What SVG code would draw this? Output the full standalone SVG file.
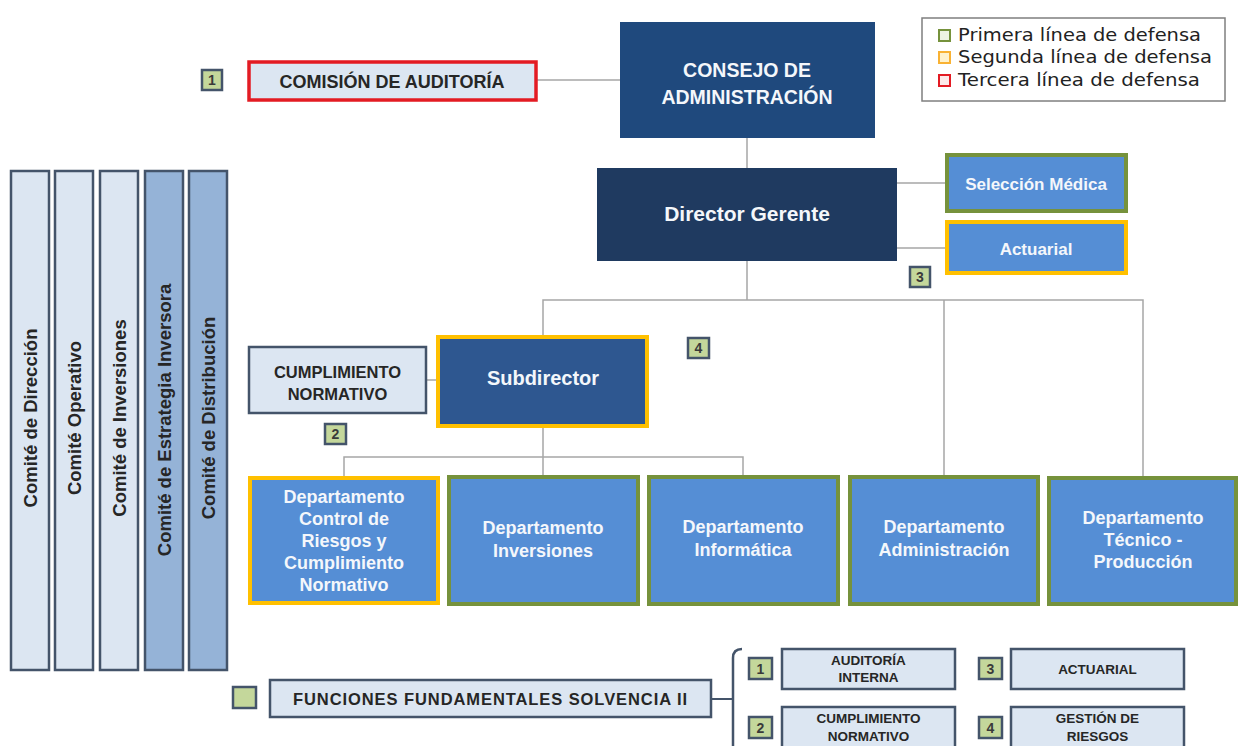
<svg xmlns="http://www.w3.org/2000/svg" width="1238" height="746" viewBox="0 0 1238 746">
<style>
.t{font-family:"Liberation Sans",Arial,sans-serif;font-weight:bold;text-anchor:middle}
.dk{fill:#262626}
.wh{fill:#f4f7fb}
.light{fill:#dce6f2;stroke:#44546a;stroke-width:2.5}
.com2{fill:#95b3d7;stroke:#44546a;stroke-width:2.5}
.dept{fill:#558ed5}
.gr{stroke:#76923c;stroke-width:4}
.ye{stroke:#ffc000;stroke-width:4}
.badge{fill:#c4d79b;stroke:#44546a;stroke-width:2.5}
.bt{font-family:"Liberation Sans",Arial,sans-serif;font-size:14px;font-weight:bold;fill:#3a3a3a;text-anchor:middle}
.conn{stroke:#a6a6a6;stroke-width:1.5;fill:none}
.leg{font-family:"DejaVu Sans",Verdana,sans-serif;font-size:17.5px;fill:#222}
</style>
<rect width="1238" height="746" fill="#ffffff"/>

<g id="connectors">
<line class="conn" x1="536" y1="80" x2="620" y2="80"/>
<line class="conn" x1="747" y1="138" x2="747" y2="168"/>
<line class="conn" x1="897" y1="183" x2="946" y2="183"/>
<line class="conn" x1="897" y1="248" x2="946" y2="248"/>
<line class="conn" x1="747" y1="261" x2="747" y2="300"/>
<polyline class="conn" points="543,335 543,300 1143,300 1143,478"/>
<line class="conn" x1="944" y1="300" x2="944" y2="476"/>
<line class="conn" x1="426" y1="380" x2="437" y2="380"/>
<line class="conn" x1="543" y1="428" x2="543" y2="476"/>
<polyline class="conn" points="344,476 344,457 743,457 743,476"/>
<line class="conn" x1="711" y1="699" x2="732" y2="699" style="stroke:#44546a;stroke-width:2"/>
<path d="M742 649 Q733 649 733 658 L733 746" style="fill:none;stroke:#44546a;stroke-width:2.5"/>
</g>

<g id="legend">
<rect x="922" y="18" width="303" height="83" fill="#ffffff" stroke="#7f7f7f" stroke-width="1.5"/>
<rect x="939" y="30" width="11" height="11" fill="#eef3e2" stroke="#76923c" stroke-width="2"/>
<rect x="939" y="52" width="11" height="11" fill="#fff2cc" stroke="#f9b233" stroke-width="2"/>
<rect x="939" y="75" width="11" height="11" fill="#fde9e9" stroke="#e31b23" stroke-width="2"/>
<text class="leg" x="958" y="41" textLength="243" lengthAdjust="spacingAndGlyphs">Primera línea de defensa</text>
<text class="leg" x="958" y="63" textLength="254" lengthAdjust="spacingAndGlyphs">Segunda línea de defensa</text>
<text class="leg" x="958" y="86" textLength="242" lengthAdjust="spacingAndGlyphs">Tercera línea de defensa</text>
</g>

<g id="badge-comision">
<rect class="badge" x="202" y="70" width="20" height="20"/>
<text class="bt" x="212" y="85">1</text>
</g>

<g id="comision-auditoria">
<rect x="249" y="62" width="287" height="38" fill="#dce6f2" stroke="#e31b23" stroke-width="3.5"/>
<text class="t dk" x="392" y="87.5" font-size="18">COMISIÓN DE AUDITORÍA</text>
</g>

<g id="consejo">
<rect x="620" y="22" width="255" height="116" fill="#1f497d"/>
<text class="t wh" x="747" y="77" font-size="19.5">CONSEJO DE</text>
<text class="t wh" x="747" y="104" font-size="19.5">ADMINISTRACIÓN</text>
</g>

<g id="director-gerente">
<rect x="597" y="168" width="300" height="93" fill="#1f3a60"/>
<text class="t wh" x="747" y="220.5" font-size="21">Director Gerente</text>
</g>

<g id="seleccion-medica">
<rect class="dept gr" x="947" y="155" width="179" height="56"/>
<text class="t wh" x="1036" y="190" font-size="17">Selección Médica</text>
</g>

<g id="actuarial">
<rect class="dept ye" x="947" y="222" width="179" height="51"/>
<text class="t wh" x="1036" y="255" font-size="17">Actuarial</text>
</g>

<g id="badge-3">
<rect class="badge" x="910" y="267" width="20" height="20"/>
<text class="bt" x="920" y="282">3</text>
</g>

<g id="badge-4">
<rect class="badge" x="688" y="338" width="21" height="20"/>
<text class="bt" x="698.5" y="353">4</text>
</g>

<g id="cumplimiento-normativo">
<rect class="light" x="249" y="347" width="177" height="66"/>
<text class="t dk" x="337.5" y="378" font-size="16.5">CUMPLIMIENTO</text>
<text class="t dk" x="337.5" y="400" font-size="16.5">NORMATIVO</text>
</g>

<g id="badge-2">
<rect class="badge" x="325" y="424" width="21" height="20"/>
<text class="bt" x="335.5" y="439">2</text>
</g>

<g id="subdirector">
<rect x="438" y="337" width="209" height="89" fill="#2e5790" class="ye"/>
<text class="t wh" x="543" y="385" font-size="20">Subdirector</text>
</g>

<g id="dept-control">
<rect class="dept ye" x="250" y="478" width="188" height="125"/>
<text class="t wh" font-size="18"><tspan x="344" y="503">Departamento</tspan><tspan x="344" y="525">Control de</tspan><tspan x="344" y="547">Riesgos y</tspan><tspan x="344" y="569">Cumplimiento</tspan><tspan x="344" y="591">Normativo</tspan></text>
</g>

<g id="dept-inversiones">
<rect class="dept gr" x="449" y="477" width="189" height="127"/>
<text class="t wh" font-size="18"><tspan x="543" y="534">Departamento</tspan><tspan x="543" y="557">Inversiones</tspan></text>
</g>

<g id="dept-informatica">
<rect class="dept gr" x="649" y="477" width="189" height="127"/>
<text class="t wh" font-size="18"><tspan x="743" y="533">Departamento</tspan><tspan x="743" y="556">Informática</tspan></text>
</g>

<g id="dept-administracion">
<rect class="dept gr" x="850" y="477" width="188" height="127"/>
<text class="t wh" font-size="18"><tspan x="944" y="533">Departamento</tspan><tspan x="944" y="556">Administración</tspan></text>
</g>

<g id="dept-tecnico">
<rect class="dept gr" x="1049" y="478" width="187" height="126"/>
<text class="t wh" font-size="18"><tspan x="1143" y="524">Departamento</tspan><tspan x="1143" y="546">Técnico -</tspan><tspan x="1143" y="568">Producción</tspan></text>
</g>

<g id="comite-direccion">
<rect class="light" x="11" y="171" width="38" height="499"/>
<text class="t dk" font-size="18.5" transform="translate(37,418) rotate(-90)">Comité de Dirección</text>
</g>
<g id="comite-operativo">
<rect class="light" x="55" y="171" width="38" height="499"/>
<text class="t dk" font-size="18.5" transform="translate(81,418) rotate(-90)">Comité Operativo</text>
</g>
<g id="comite-inversiones">
<rect class="light" x="100" y="171" width="38" height="499"/>
<text class="t dk" font-size="18.5" transform="translate(126,418) rotate(-90)">Comité de Inversiones</text>
</g>
<g id="comite-estrategia">
<rect class="com2" x="145" y="171" width="38" height="499"/>
<text class="t dk" font-size="18.5" transform="translate(171,420) rotate(-90)">Comité de Estrategia Inversora</text>
</g>
<g id="comite-distribucion">
<rect class="com2" x="189" y="171" width="38" height="499"/>
<text class="t dk" font-size="18.5" transform="translate(215,418) rotate(-90)">Comité de Distribución</text>
</g>

<g id="funciones">
<rect class="badge" x="233" y="687" width="23" height="21"/>
<rect class="light" x="270" y="680" width="441" height="37"/>
<text class="t dk" x="490" y="705" font-size="16.5" textLength="394" lengthAdjust="spacing">FUNCIONES FUNDAMENTALES SOLVENCIA II</text>
</g>

<g id="auditoria-interna">
<rect class="badge" x="749" y="658" width="23" height="21"/>
<text class="bt" x="760.5" y="673.5">1</text>
<rect class="light" x="782" y="649" width="173" height="40"/>
<text class="t dk" x="868.5" y="665" font-size="13.5">AUDITORÍA</text>
<text class="t dk" x="868.5" y="682" font-size="13.5">INTERNA</text>
</g>

<g id="cumplimiento-2">
<rect class="badge" x="749" y="717" width="23" height="21"/>
<text class="bt" x="760.5" y="732.5">2</text>
<rect class="light" x="782" y="707" width="173" height="45"/>
<text class="t dk" x="868.5" y="723" font-size="13.5">CUMPLIMIENTO</text>
<text class="t dk" x="868.5" y="741" font-size="13.5">NORMATIVO</text>
</g>

<g id="actuarial-2">
<rect class="badge" x="979" y="658" width="23" height="21"/>
<text class="bt" x="990.5" y="673.5">3</text>
<rect class="light" x="1011" y="649" width="173" height="40"/>
<text class="t dk" x="1097.5" y="673.5" font-size="13.5">ACTUARIAL</text>
</g>

<g id="gestion-riesgos">
<rect class="badge" x="979" y="717" width="23" height="21"/>
<text class="bt" x="990.5" y="732.5">4</text>
<rect class="light" x="1011" y="707" width="173" height="45"/>
<text class="t dk" x="1097.5" y="723" font-size="13.5">GESTIÓN DE</text>
<text class="t dk" x="1097.5" y="741" font-size="13.5">RIESGOS</text>
</g>
</svg>
